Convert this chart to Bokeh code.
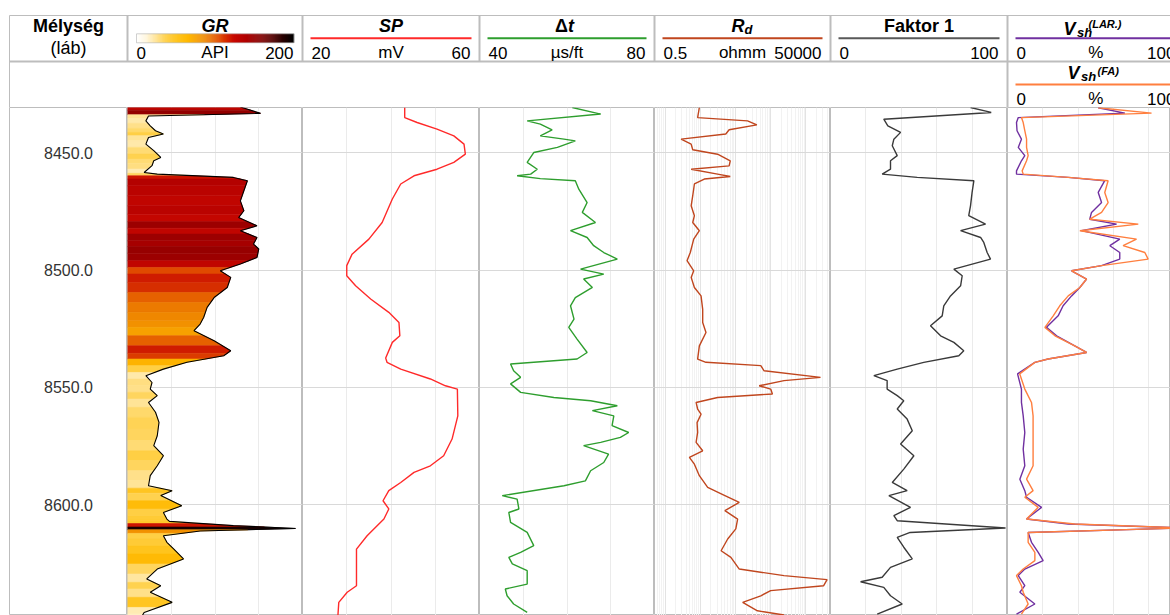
import numpy as np
from bokeh.plotting import figure
from bokeh.layouts import column, row
from bokeh.models import Range1d, LogScale, Grid, FixedTicker, ColumnDataSource
from bokeh.transform import linear_cmap
from bokeh.core.properties import value
from bokeh.embed import file_html
from bokeh.resources import INLINE

FONT = "Liberation Sans"
FRAME = "#BDBDBD"
HGRID = "#D9D9D9"
VGRID = "#EBEBEB"

# ---------------- depth axis ----------------
depth_ticks = [8450, 8500, 8550, 8600]
depth_labels = ["8450.0", "8500.0", "8550.0", "8600.0"]
depth_top = 8430.7
depth_bottom = 8647.2

# ---------------- log curves ----------------
gr_depth = [8430.5, 8433.2, 8434.3, 8436.4, 8438.5, 8440.6, 8442.0, 8443.5, 8446.3, 8449.1,
            8452.0, 8453.4, 8455.5, 8458.4, 8459.1, 8460.5, 8461.9, 8466.2, 8470.5, 8474.7,
            8477.6, 8481.1, 8483.2, 8486.1, 8488.9, 8491.0, 8494.6, 8497.4, 8500.3, 8503.1,
            8507.4, 8511.7, 8515.9, 8520.2, 8523.0, 8525.8, 8530.1, 8534.4, 8536.5, 8539.3,
            8542.2, 8545.0, 8547.9, 8550.7, 8553.5, 8556.4, 8560.6, 8564.9, 8570.6, 8574.8,
            8579.1, 8583.4, 8587.6, 8591.9, 8594.0, 8596.1, 8600.4, 8603.3, 8606.1, 8607.1,
            8608.9, 8610.1, 8611.2, 8613.2, 8616.0, 8618.9, 8623.1, 8627.4, 8631.6, 8634.5,
            8637.3, 8641.6, 8645.9, 8647.2]
gr_api = [129, 152, 24, 21, 26, 32, 41, 24, 21, 30,
          38, 30, 28, 19, 34, 121, 137, 133, 129, 133,
          127, 148, 129, 148, 144, 150, 148, 129, 106, 118,
          114, 99, 91, 87, 83, 76, 99, 118, 110, 68,
          41, 21, 28, 26, 34, 24, 32, 36, 34, 30,
          41, 34, 26, 24, 51, 38, 62, 41, 45, 48,
          121, 192, 83, 41, 45, 53, 64, 34, 22, 38,
          26, 51, 19, 17]

sp_depth = [8430.7, 8435.0, 8437.1, 8439.9, 8442.8, 8446.3, 8450.6, 8454.1, 8457.0, 8459.8,
            8463.3, 8469.7, 8479.7, 8486.8, 8493.2, 8498.1, 8502.4, 8506.7, 8512.3, 8518.0,
            8522.3, 8528.0, 8530.8, 8537.5, 8539.3, 8542.2, 8546.4, 8549.3, 8550.7, 8562.1,
            8572.0, 8579.1, 8583.4, 8586.2, 8590.5, 8594.0, 8598.3, 8601.8, 8606.1, 8613.2,
            8618.9, 8634.5, 8637.3, 8641.6, 8647.3]
sp_mv = [43.1, 43.1, 45.9, 50.4, 54.2, 56.5, 56.8, 54.2, 50.4, 45.2,
         42.2, 40.3, 38.0, 35.0, 31.2, 30.0, 30.0, 32.0, 35.4, 39.5,
         41.8, 42.0, 40.3, 38.8, 39.1, 42.2, 48.9, 52.3, 55.0, 55.1,
         53.8, 51.9, 48.9, 45.2, 42.2, 39.5, 38.2, 39.5, 38.4, 34.6,
         32.2, 32.2, 30.1, 28.2, 28.0]

dt_depth = [8430.7, 8433.5, 8436.4, 8437.8, 8440.2, 8442.8, 8444.2, 8444.9, 8447.7, 8449.9,
            8454.1, 8457.0, 8459.1, 8459.8, 8461.0, 8461.9, 8465.5, 8471.2, 8475.4, 8479.7,
            8483.2, 8486.1, 8489.6, 8492.5, 8495.3, 8499.6, 8501.7, 8503.8, 8507.4, 8511.7,
            8515.2, 8520.9, 8524.4, 8529.4, 8535.1, 8537.9, 8540.0, 8542.9, 8545.7, 8548.5,
            8552.1, 8554.3, 8555.7, 8557.8, 8559.9, 8562.1, 8566.3, 8569.2, 8571.3, 8573.4,
            8574.8, 8578.4, 8582.0, 8585.5, 8589.8, 8591.9, 8596.1, 8597.6, 8601.8, 8603.3,
            8607.5, 8611.8, 8617.4, 8620.3, 8622.4, 8625.2, 8628.1, 8633.8, 8635.9, 8638.8,
            8642.3, 8645.9]
dt_us = [61.2, 67.7, 50.9, 53.9, 56.6, 53.9, 59.3, 61.9, 57.8, 52.4,
         50.9, 53.2, 51.7, 48.6, 53.9, 61.9, 62.7, 64.6, 63.5, 66.5,
         60.8, 64.6, 66.1, 68.4, 71.5, 63.1, 68.4, 63.8, 65.8, 61.9,
         60.8, 61.6, 60.4, 62.3, 64.6, 62.3, 47.1, 47.8, 49.4, 47.1,
         49.4, 57.0, 65.4, 71.5, 65.8, 70.7, 70.3, 74.1, 72.2, 67.7,
         63.8, 69.5, 68.4, 65.4, 64.2, 59.3, 45.2, 48.6, 49.0, 46.7,
         47.1, 50.9, 52.4, 49.4, 46.7, 47.5, 50.9, 50.9, 45.9, 46.3,
         47.8, 50.9]

rd_depth = [8430.7, 8435.0, 8436.4, 8438.1, 8440.2, 8442.0, 8444.2, 8446.3, 8448.7, 8450.6,
            8453.4, 8455.6, 8457.0, 8459.1, 8460.1, 8461.2, 8463.3, 8468.3, 8472.6, 8476.8,
            8479.7, 8483.2, 8486.8, 8492.5, 8496.0, 8500.3, 8503.1, 8507.4, 8511.0, 8516.7,
            8522.3, 8526.6, 8532.3, 8537.9, 8539.3, 8540.7, 8542.9, 8545.7, 8547.1, 8549.3,
            8550.7, 8552.8, 8554.3, 8556.4, 8559.2, 8561.4, 8565.0, 8569.2, 8573.4, 8577.0,
            8579.8, 8582.7, 8587.6, 8592.6, 8596.1, 8599.0, 8602.5, 8606.1, 8610.3, 8614.6,
            8619.6, 8622.4, 8627.4, 8630.2, 8631.9, 8634.5, 8636.6, 8638.8, 8641.6, 8645.2,
            8647.0]
rd_ohmm = [9.4, 8.4, 220, 404, 66, 53, 2.85, 5.5, 6.1, 31,
           71, 66, 5.5, 31, 71, 13, 6.8, 6.1, 5.5, 6.8,
           6.1, 9.4, 6.5, 5.2, 4.2, 6.5, 5.5, 6.8, 10.5, 11.7,
           11.7, 14.5, 9.4, 8.4, 14.5, 523, 650, 26000, 2390, 470,
           1000, 1120, 31, 7.6, 8.4, 10.5, 8.1, 8.4, 7.6, 11.7,
           4.9, 6.8, 9.4, 16.2, 50, 128, 50, 115, 102, 60,
           39, 74, 128, 2390, 40000, 32000, 1000, 523, 160, 420,
           2390]

f1_depth = [8430.7, 8432.8, 8435.7, 8438.5, 8441.3, 8444.2, 8447.0, 8451.2, 8453.4, 8457.0,
            8459.1, 8460.5, 8461.9, 8466.9, 8472.6, 8476.8, 8480.4, 8483.2, 8486.1, 8488.2,
            8492.5, 8495.3, 8499.6, 8502.4, 8506.7, 8511.0, 8515.2, 8519.5, 8523.7, 8528.0,
            8530.8, 8534.4, 8536.5, 8539.3, 8542.2, 8545.0, 8547.1, 8550.7, 8553.5, 8555.7,
            8559.2, 8563.5, 8568.5, 8574.1, 8579.1, 8584.8, 8590.5, 8594.0, 8596.1, 8601.1,
            8604.6, 8606.8, 8609.9, 8611.8, 8613.9, 8618.1, 8623.1, 8626.7, 8630.9, 8632.8,
            8635.2, 8638.8, 8642.3, 8646.6]
f1_val = [79.1, 90.8, 30.1, 32.4, 39.6, 35.8, 34.9, 37.7, 33.9, 33.9,
          29.2, 49.0, 81.0, 80.0, 79.1, 78.1, 87.6, 73.5, 84.8, 86.6,
          88.5, 90.4, 69.7, 74.4, 73.5, 67.8, 64.0, 63.1, 56.5, 62.2,
          69.7, 75.3, 72.5, 52.7, 37.7, 24.5, 32.0, 32.0, 37.7, 41.4,
          37.7, 43.3, 46.2, 39.6, 47.1, 41.4, 34.9, 43.3, 33.0, 45.2,
          35.8, 37.7, 98.9, 45.0, 37.7, 41.4, 46.2, 33.9, 29.2, 17.0,
          30.1, 33.9, 40.5, 26.4]

vsh_depth = [8430.8, 8433.1, 8435.0, 8437.1, 8440.6, 8444.2, 8447.7, 8451.2, 8453.4, 8457.7,
             8459.1, 8460.5, 8461.9, 8466.9, 8471.2, 8475.4, 8478.3, 8480.4, 8483.2, 8486.8,
             8489.6, 8492.5, 8495.3, 8498.1, 8500.3, 8503.8, 8507.4, 8511.0, 8515.2, 8519.5,
             8524.4, 8528.0, 8532.3, 8535.1, 8537.9, 8539.3, 8544.2, 8550.7, 8556.4, 8562.1,
             8569.2, 8576.3, 8583.4, 8589.1, 8594.0, 8596.8, 8601.1, 8606.1, 8608.2, 8609.9,
             8611.8, 8616.0, 8620.3, 8623.8, 8627.4, 8630.2, 8634.5, 8637.3, 8642.3, 8646.6]
vsh_lar = [51.4, 66.5, 6.1, 5.1, 5.4, 7.9, 6.1, 9.8, 7.9, 5.1,
           5.1, 34.4, 55.1, 51.4, 53.3, 47.6, 46.6, 61.8, 41.9, 63.6,
           58.0, 63.6, 63.6, 53.3, 36.3, 44.8, 41.0, 36.3, 31.5, 28.7,
           22.1, 27.8, 38.1, 44.8, 23.0, 15.5, 5.7, 7.9, 7.9, 8.9,
           9.8, 8.9, 9.8, 7.0, 9.8, 10.8, 19.3, 10.8, 34.4, 100.0,
           11.7, 13.6, 17.4, 20.2, 9.8, 6.1, 9.8, 7.0, 15.5, 5.1]
vsh_fa = [51.4, 81.6, 7.9, 8.9, 9.8, 10.8, 10.8, 11.7, 10.8, 8.3,
          8.9, 34.4, 57.0, 55.1, 57.0, 53.3, 46.6, 74.1, 41.0, 73.1,
          65.5, 77.8, 79.7, 53.3, 36.3, 44.8, 41.0, 34.4, 29.6, 25.9,
          21.2, 26.9, 38.1, 44.8, 23.0, 15.5, 6.9, 9.8, 13.6, 14.5,
          14.5, 14.5, 14.5, 10.8, 14.5, 9.8, 17.4, 10.8, 38.1, 100.0,
          11.7, 11.7, 15.5, 15.5, 8.9, 5.1, 7.9, 8.9, 11.7, 7.9]

# ---------------- header texts ----------------
track_min_labels = ["0", "20", "40", "0.5", "0", "0"]
track_max_labels = ["200", "60", "80", "50000", "100", "100"]
track_units = ["API", "mV", "µs/ft", "ohmm", "", "%"]

# ---------------- GR colour scale ----------------
gr_stops = [(0.00, "#FFFFFF"), (0.06, "#FFF6DC"), (0.11, "#FFE6A0"), (0.17, "#FFD55C"),
            (0.25, "#FFC623"), (0.33, "#FFB800"), (0.43, "#F08A00"), (0.53, "#E04A00"),
            (0.62, "#C80800"), (0.70, "#B00000"), (0.80, "#800000"), (0.90, "#3C0000"),
            (1.00, "#000000")]


def build_palette(stops, n=256):
    pos = np.array([s[0] for s in stops])
    rgb = np.array([[int(c[i:i + 2], 16) for i in (1, 3, 5)] for _, c in stops], dtype=float)
    pal = []
    for t in np.linspace(0, 1, n):
        r, g, b = (int(round(np.interp(t, pos, rgb[:, k]))) for k in range(3))
        pal.append(f"#{r:02X}{g:02X}{b:02X}")
    return pal


GR_PALETTE = build_palette(gr_stops)

# column edges of the log layout (page pixels)
EDGES = [9, 127, 302, 479, 654, 830, 1007, 1183.5]
PAGE_W = 1170
HDR_H = 107
TRACK_H = 508

y_rng = Range1d(depth_bottom, depth_top)


def make_track(width, x_range, left=0):
    p = figure(width=width, height=TRACK_H, x_range=x_range, y_range=y_rng,
               x_axis_type=None, y_axis_type=None, toolbar_location=None,
               min_border=0, min_border_left=left, output_backend="svg",
               outline_line_color=FRAME, outline_line_width=1,
               background_fill_color="white", border_fill_color="white")
    return p


def add_grids(p, vticks, vcolor=VGRID, depth=True):
    if vticks:
        p.add_layout(Grid(dimension=0, ticker=FixedTicker(ticks=vticks),
                          grid_line_color=vcolor, grid_line_width=1))
    if depth:
        p.add_layout(Grid(dimension=1, ticker=FixedTicker(ticks=depth_ticks),
                          grid_line_color=HGRID, grid_line_width=1))


# ---- depth column ----
p_depth = make_track(EDGES[1], Range1d(0, 1), left=EDGES[0])
p_depth.text(x=[0.5] * len(depth_ticks), y=depth_ticks, text=depth_labels,
             text_font=value(FONT), text_font_size=value("16px"), text_color="#333333",
             text_align="center", text_baseline="middle")

# ---- GR track with colour-coded fill ----
p_gr = make_track(EDGES[2] - EDGES[1], Range1d(0, 200))
add_grids(p_gr, [50, 100, 150])
xs, ys, cv = [], [], []
n = len(gr_depth)
for i in range(n):
    if i == 0:
        m0, v0 = gr_depth[0], gr_api[0]
    else:
        m0 = (gr_depth[i - 1] + gr_depth[i]) / 2
        v0 = (gr_api[i - 1] + gr_api[i]) / 2
    if i == n - 1:
        m1, v1 = gr_depth[-1], gr_api[-1]
    else:
        m1 = (gr_depth[i] + gr_depth[i + 1]) / 2
        v1 = (gr_api[i] + gr_api[i + 1]) / 2
    xs.append([0, v0, gr_api[i], v1, 0])
    ys.append([m0, m0, gr_depth[i], m1, m1])
    cv.append(gr_api[i])
fill_src = ColumnDataSource(dict(xs=xs, ys=ys, gr=cv))
cmap = linear_cmap("gr", GR_PALETTE, 0, 200)
p_gr.patches("xs", "ys", source=fill_src, fill_color=cmap, line_color=cmap, line_width=0.6)
p_gr.line(gr_api, gr_depth, line_color="black", line_width=1.1)

# ---- SP ----
p_sp = make_track(EDGES[3] - EDGES[2], Range1d(20, 60))
add_grids(p_sp, [30, 40, 50])
p_sp.line(sp_mv, sp_depth, line_color="#FF2A2A", line_width=1.4)

# ---- sonic ----
p_dt = make_track(EDGES[4] - EDGES[3], Range1d(40, 80))
add_grids(p_dt, [50, 60, 70])
p_dt.line(dt_us, dt_depth, line_color="#2E9E2E", line_width=1.4)

# ---- deep resistivity (log) ----
p_rd = make_track(EDGES[5] - EDGES[4], Range1d(0.5, 50000))
p_rd.x_scale = LogScale()
minor = [k * 10.0 ** e for e in range(-1, 5) for k in range(2, 10) if 0.5 < k * 10.0 ** e < 50000]
decades = [1, 10, 100, 1000, 10000]
add_grids(p_rd, minor, vcolor="#F2F2F2", depth=False)
add_grids(p_rd, decades, vcolor="#E3E3E3")
p_rd.line(rd_ohmm, rd_depth, line_color="#C0461E", line_width=1.4)

# ---- factor 1 ----
p_f1 = make_track(EDGES[6] - EDGES[5], Range1d(0, 100))
add_grids(p_f1, [20, 40, 60, 80])
p_f1.line(f1_val, f1_depth, line_color="#3A3A3A", line_width=1.4)

# ---- shale volume ----
vsh_w = PAGE_W - EDGES[6]
p_vsh = make_track(vsh_w, Range1d(0, 100 * vsh_w / (EDGES[7] - EDGES[6])))
add_grids(p_vsh, [20, 40, 60, 80])
p_vsh.line(vsh_lar, vsh_depth, line_color="#7030A0", line_width=1.4)
p_vsh.line(vsh_fa, vsh_depth, line_color="#FF7F3F", line_width=1.4)

# ---------------- header ----------------
hdr = figure(width=PAGE_W, height=HDR_H, x_range=Range1d(0, PAGE_W), y_range=Range1d(HDR_H, 0),
             x_axis_type=None, y_axis_type=None, toolbar_location=None, min_border=0,
             outline_line_color=None, output_backend="svg")


def htext(x, y, s, size=17, style="normal", align="left", color="black"):
    hdr.text(x=[x], y=[y], text=[s], text_font=value(FONT), text_font_size=value(f"{size}px"),
             text_font_style=style, text_align=align, text_baseline="middle",
             text_color=color)


# frame lines
hdr.segment(x0=[EDGES[0], EDGES[0]], y0=[15, 61], x1=[PAGE_W, PAGE_W], y1=[15, 61],
            line_color=FRAME, line_width=[1, 2])
hdr.segment(x0=[EDGES[0]], y0=[15], x1=[EDGES[0]], y1=[HDR_H], line_color=FRAME, line_width=1)
hdr.segment(x0=EDGES[1:6], y0=[15] * 5, x1=EDGES[1:6], y1=[61] * 5, line_color=FRAME, line_width=2)
hdr.segment(x0=[EDGES[6]], y0=[15], x1=[EDGES[6]], y1=[HDR_H], line_color=FRAME, line_width=2)

# depth column title
htext(68, 25, "Mélység", size=18, style="bold", align="center")
htext(68, 47.5, "(láb)", size=18, align="center")

centers = [(EDGES[i] + EDGES[i + 1]) / 2 for i in range(1, 7)]
line_colors = [None, "#FF2A2A", "#2E9E2E", "#C0461E", "#595959", "#7030A0"]
TY = 25     # title centre line
LY = 52     # scale-label centre line
for i in range(6):
    x0, x1 = EDGES[i + 1], EDGES[i + 2]
    htext(x0 + 9, LY, track_min_labels[i])
    if track_units[i]:
        htext(centers[i], LY, track_units[i], align="center")
    if i < 5:
        htext(x1 - 9, LY, track_max_labels[i], align="right")
    else:
        htext(x1 - 37, LY, track_max_labels[i])
    if line_colors[i]:
        hdr.segment(x0=[x0 + 8], y0=[37.8], x1=[x1 - 8], y1=[37.8],
                    line_color=line_colors[i], line_width=2)

# GR colour bar
nb = 160
cb_x0, cb_x1 = 136, 293.3
cb_w = (cb_x1 - cb_x0) / nb
cb_src = ColumnDataSource(dict(
    left=[cb_x0 + k * cb_w for k in range(nb)],
    right=[cb_x0 + (k + 1) * cb_w + 0.4 for k in range(nb)],
    gr=[200 * (k + 0.5) / nb for k in range(nb)]))
hdr.quad(left="left", right="right", top=33.3, bottom=42.3, source=cb_src,
         fill_color=linear_cmap("gr", GR_PALETTE, 0, 200), line_color=None)
hdr.quad(left=[cb_x0], right=[cb_x1], top=[33.3], bottom=[42.3], fill_color=None,
         line_color="#B0B0B0", line_width=0.6)

# track titles
htext(centers[0], TY, "GR", size=18, style="bold italic", align="center")
htext(centers[1], TY, "SP", size=18, style="bold italic", align="center")
htext(centers[2] + 1, TY, "Δ", size=18, style="bold", align="right")
htext(centers[2] + 1, TY, "t", size=18, style="bold italic", align="left")
htext(centers[3] + 2, TY, "R", size=18, style="bold italic", align="right")
htext(centers[3] + 2, TY + 4, "d", size=13, style="bold italic", align="left")
htext(centers[4], TY, "Faktor 1", size=18, style="bold", align="center")

# Vsh (LAR.) block
htext(1063, 28.3, "V", size=18, style="bold italic")
htext(1076.5, 32, "sh", size=13, style="bold italic")
htext(1088, 23.5, "(LAR.)", size=11, style="bold italic")

# Vsh (FA) block, second header row
vx0, vx1 = EDGES[6], EDGES[7]
htext(1067, 72.5, "V", size=18, style="bold italic")
htext(1080.5, 76, "sh", size=13, style="bold italic")
htext(1097, 70, "(FA)", size=11, style="bold italic")
hdr.segment(x0=[vx0 + 8], y0=[84], x1=[vx1 - 8], y1=[84], line_color="#FF7F3F", line_width=2)
htext(vx0 + 9, 98, "0")
htext(centers[5], 98, "%", align="center")
htext(vx1 - 37, 98, "100")

layout = column(hdr, row(p_depth, p_gr, p_sp, p_dt, p_rd, p_f1, p_vsh))

with open("out.html", "w") as f:
    f.write(file_html(layout, INLINE, "Mélység log"))
